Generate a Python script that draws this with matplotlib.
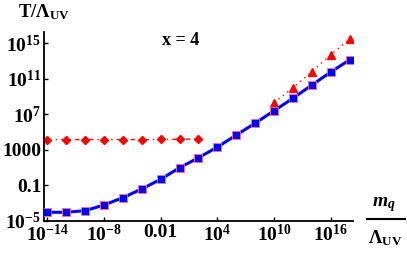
import numpy as np
import matplotlib.pyplot as plt
from matplotlib.ticker import FixedLocator, FixedFormatter, NullLocator

plt.rcParams['mathtext.fontset'] = 'custom'
plt.rcParams['mathtext.rm'] = 'Liberation Serif:bold'
plt.rcParams['mathtext.bf'] = 'Liberation Serif:bold'
plt.rcParams['mathtext.it'] = 'Liberation Serif:bold:italic'
plt.rcParams['mathtext.bfit'] = 'Liberation Serif:bold:italic'
plt.rcParams['mathtext.default'] = 'bf'

# exponents of m_q / Lambda_UV
mq_blue = [-14, -12, -10, -8, -6, -4, -2, 0, 2, 4, 6, 8, 10, 12, 14, 16, 18]
T_blue = [-4.02, -4.02, -3.84, -3.2, -2.38, -1.4, -0.31, 0.99, 2.11, 3.31,
          4.66, 6.0, 7.39, 8.8, 10.28, 11.74, 13.12]

mq_diamond = [-14, -12, -10, -8, -6, -4, -2, 0, 2]
T_diamond = [4.15, 4.15, 4.15, 4.15, 4.15, 4.15, 4.16, 4.18, 4.24]

mq_tri = [10, 12, 14, 16, 18]
T_tri = [8.3, 9.98, 11.78, 13.69, 15.45]

xtick_exp = [-14, -8, -2, 4, 10, 16]
xtick_lab = [r'$10^{-14}$', r'$10^{-8}$', '0.01', r'$10^{4}$', r'$10^{10}$', r'$10^{16}$']
ytick_exp = [-5, -1, 3, 7, 11, 15]
ytick_lab = [r'$10^{-5}$', '0.1', '1000', r'$10^{7}$', r'$10^{11}$', r'$10^{15}$']

fig = plt.figure(figsize=(4.07, 2.54), dpi=100)
ax = fig.add_axes([44/407, 1-221/254, (353-44)/407, (221-32)/254])

p = lambda e: 10.0**np.array(e, dtype=float)

ax.plot(p(mq_diamond), p(T_diamond), color='red', lw=1.0, ls=(0, (3, 3, 1, 3)),
        marker='D', ms=4, mec='red', zorder=2)
ax.plot(p(mq_tri), p(T_tri), color='red', lw=1.0, ls=(0, (1, 3)),
        marker='^', ms=6, mec='red', zorder=2)
ax.plot(p(mq_blue), p(T_blue), color='blue', lw=2.2, marker='s', ms=5.5,
        mec='#ff7090', mew=0.6, zorder=3)

ax.set_xscale('log')
ax.set_yscale('log')
ax.set_xlim(10**-14.35, 10**18.35)
ax.set_ylim(10**-5.0, 10**16.24)

ax.xaxis.set_major_locator(FixedLocator(p(xtick_exp)))
ax.xaxis.set_major_formatter(FixedFormatter(xtick_lab))
ax.yaxis.set_major_locator(FixedLocator(p(ytick_exp)))
ax.yaxis.set_major_formatter(FixedFormatter(ytick_lab))
ax.xaxis.set_minor_locator(NullLocator())
ax.yaxis.set_minor_locator(NullLocator())

for s in ['top', 'right']:
    ax.spines[s].set_visible(False)
for s in ['left', 'bottom']:
    ax.spines[s].set_linewidth(1.3)
ax.tick_params(direction='in', length=3, width=1.0)
ax.tick_params(axis='y', pad=2)
ax.tick_params(axis='x', pad=2)
for lab in ax.get_xticklabels() + ax.get_yticklabels():
    lab.set_fontfamily('Liberation Serif')
    lab.set_fontweight('bold')
    lab.set_fontsize(14)

fig.text(44/407, 1-12/254, r'$T/\Lambda_{UV}$', fontsize=13.5, ha='center', va='center')
fig.text(181/407, 1-41/254, 'x = 4', fontsize=13, ha='center', va='center',
         family='Liberation Serif', weight='bold')
fig.text(384/407, 1-205/254, r'$\mathbfit{m_q}$', fontsize=14, ha='center', va='center')
fig.add_artist(plt.Line2D([367/407, 405/407], [1-219/254, 1-219/254],
                          color='black', lw=1.5))
fig.text(385/407, 1-238/254, r'$\mathrm{\Lambda_{UV}}$', fontsize=13.5, ha='center', va='center')

fig.savefig('out.png', dpi=100)
